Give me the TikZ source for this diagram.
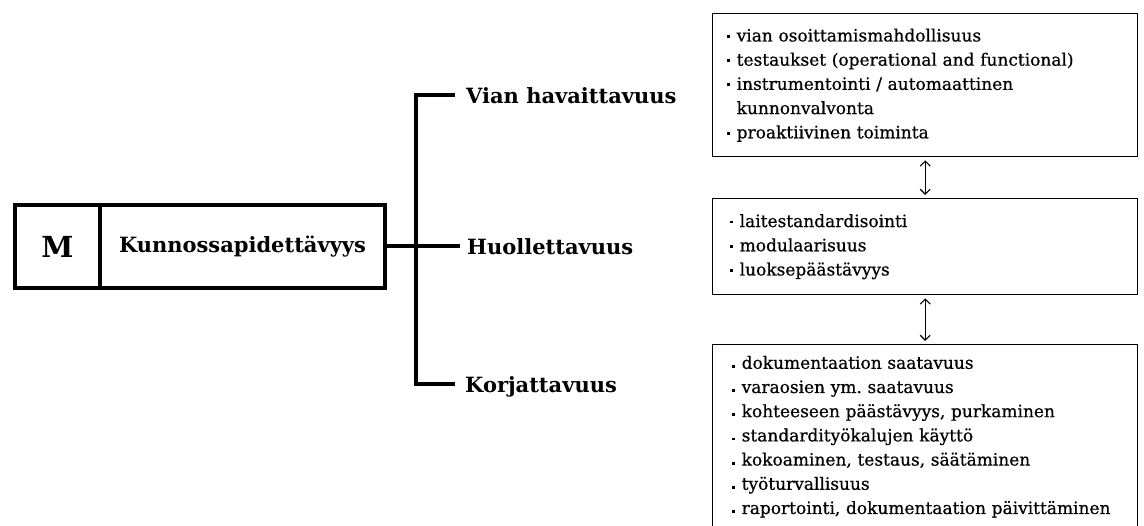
\documentclass[tikz,border=0pt]{standalone}
\usepackage{fontspec}
\setmainfont{DejaVu Serif}
\newfontfamily\listfont{DejaVu Serif}[FakeBold=0.6]
\usetikzlibrary{arrows.meta}

% list markers: small square bullet, and indent for wrapped lines
\newcommand{\itm}{\makebox[9.5bp][l]{\rule[0.22em]{2.8bp}{2.8bp}}}
\newcommand{\itmlow}{\makebox[9.5bp][l]{\rule[0.06em]{2.8bp}{2.8bp}}}
\newcommand{\cont}{\hspace*{9.5bp}}

\tikzset{
  heavy/.style={line width=4bp, line join=miter},
  headbox/.style={draw, heavy, minimum height=83bp, inner sep=0pt,
    font=\bfseries\fontsize{21bp}{25bp}\selectfont},
  branch/.style={anchor=west, inner xsep=11bp, inner ysep=0pt,
    text height=17bp, text depth=0pt,
    font=\bfseries\fontsize{21bp}{25bp}\selectfont},
  infobox/.style={draw, line width=1.4bp, inner ysep=0pt, align=left,
    anchor=north west, minimum width=425bp,
    font=\listfont\fontsize{17bp}{24.2bp}\selectfont},
  link/.style={line width=1.1bp,
    {Straight Barb[length=5bp,width=10bp]}-{Straight Barb[length=5bp,width=10bp]},
    shorten <=3bp, shorten >=3bp}
}

\begin{document}
\begin{tikzpicture}[x=1bp, y=-1bp]
\useasboundingbox (0,0) rectangle (1144,526);

% main concept box, split into letter and name
\node[headbox, minimum width=85bp, font=\bfseries\fontsize{29bp}{32bp}\selectfont]
  (mbox) at (57.5,246.5) {M};
\node[headbox, minimum width=285bp] (kbox) at (242.5,246.5) {Kunnossapidettävyys};

% branch labels
\node[branch] (lblV) at (455,95) {Vian havaittavuus};
\node[branch, inner xsep=7bp] (lblH) at (460,246.5) {Huollettavuus};
\node[branch, inner xsep=10bp] (lblK) at (455,384) {Korjattavuus};

% bracket joining the main box to the three branches
\coordinate (j) at (416,246.5);
\draw[heavy] (kbox.east) -- (lblH.west);
\draw[heavy] (lblV.west) -| (j) |- (lblK.west);

% detail boxes
\node[infobox, minimum height=143bp, inner xsep=14.5bp, text width=396bp]
  (b1) at (712,13) {%
  \itm vian osoittamismahdollisuus\\
  \itm testaukset (operational and functional)\\
  \itm instrumentointi / automaattinen\\
  \cont kunnonvalvonta\\
  \itm proaktiivinen toiminta};

\node[infobox, minimum height=96bp, inner xsep=17.5bp, text width=390bp]
  (b2) at (712,198) {%
  \itm laitestandardisointi\\
  \itm modulaarisuus\\
  \itm luoksepäästävyys};

\node[infobox, minimum height=184bp, inner xsep=19.5bp, text width=386bp]
  (b3) at (712,344) {%
  \itmlow dokumentaation saatavuus\\
  \itmlow varaosien ym.\ saatavuus\\
  \itmlow kohteeseen päästävyys, purkaminen\\
  \itmlow standardityökalujen käyttö\\
  \itmlow kokoaminen, testaus, säätäminen\\
  \itmlow työturvallisuus\\
  \itmlow raportointi, dokumentaation päivittäminen};

% links between detail boxes
\draw[link] (b1.south) -- (b2.north);
\draw[link] (b2.south) -- (b3.north);
\end{tikzpicture}
\end{document}
